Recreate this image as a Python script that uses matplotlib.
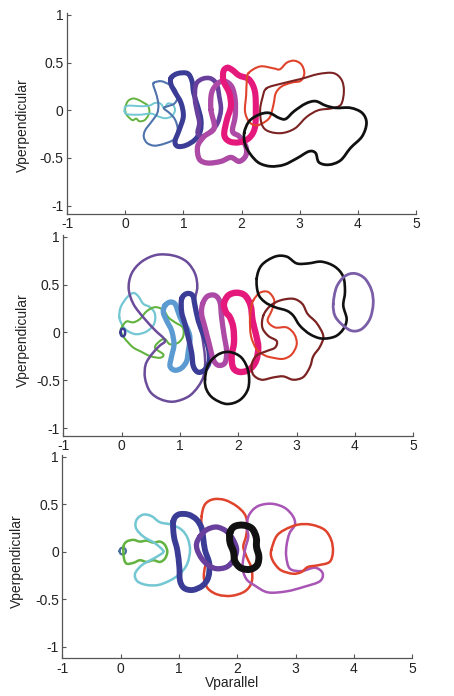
import numpy as np
import matplotlib
matplotlib.use("Agg")
import matplotlib.pyplot as plt
from matplotlib.path import Path
from matplotlib.patches import PathPatch

plt.rcParams['font.family'] = ['Liberation Sans', 'DejaVu Sans']
plt.rcParams['axes.unicode_minus'] = False

# ---------------- data: closed velocity-space contours (Vparallel, Vperpendicular) ----------------
# panel 1
p1_green = [(0.0, 0.025), (0.046, 0.095), (0.131, 0.123), (0.217, 0.112), (0.303, 0.084), (0.389, 0.049),
            (0.417, -0.011), (0.389, -0.063), (0.331, -0.105), (0.246, -0.116), (0.189, -0.088),
            (0.131, -0.105), (0.074, -0.081), (0.017, -0.039)]
p1_cyan = [(-0.011, -0.011), (0.0, 0.035), (0.074, 0.049), (0.274, 0.042), (0.417, 0.049), (0.514, 0.077),
           (0.606, 0.07), (0.674, 0.025), (0.731, 0.07), (0.817, 0.06), (0.857, 0.0), (0.8, -0.063),
           (0.686, -0.084), (0.56, -0.063), (0.446, -0.035), (0.274, -0.046), (0.103, -0.046), (0.017, -0.039)]
p1_steel = [(0.491, 0.288), (0.617, 0.305), (0.76, 0.27), (0.857, 0.225), (0.903, 0.14), (0.846, 0.07),
            (0.731, 0.042), (0.663, 0.021), (0.76, -0.028), (0.857, -0.098), (0.903, -0.204), (0.846, -0.302),
            (0.674, -0.351), (0.503, -0.372), (0.377, -0.344), (0.32, -0.281), (0.343, -0.211),
            (0.446, -0.126), (0.549, -0.035), (0.571, 0.06), (0.537, 0.165), (0.491, 0.246)]
p1_navy = [(0.789, 0.340), (0.903, 0.386), (1.074, 0.386), (1.149, 0.305), (1.177, 0.182), (1.246, 0.042),
           (1.303, -0.098), (1.291, -0.221), (1.2, -0.309), (1.046, -0.368), (0.903, -0.379), (0.857, -0.326),
           (0.931, -0.204), (1.0, -0.063), (0.96, 0.077), (0.857, 0.189), (0.789, 0.270)]
p1_purple = [(1.217, 0.270), (1.331, 0.330), (1.474, 0.333), (1.577, 0.270), (1.617, 0.147), (1.646, 0.007),
             (1.589, -0.133), (1.474, -0.221), (1.331, -0.274), (1.246, -0.239), (1.274, -0.133),
             (1.234, -0.011), (1.2, 0.112)]
p1_orchid = [(1.474, 0.007), (1.531, -0.186), (1.36, -0.274), (1.246, -0.379), (1.274, -0.512), (1.417, -0.554),
             (1.646, -0.537), (1.817, -0.495), (1.96, -0.537), (2.074, -0.477), (2.074, -0.379), (1.96, -0.274),
             (1.846, -0.221), (1.891, -0.063), (1.891, 0.112), (1.834, 0.246), (1.714, 0.305), (1.589, 0.281),
             (1.486, 0.182)]
p1_pink = [(1.76, 0.446), (1.846, 0.421), (1.96, 0.365), (2.131, 0.323), (2.229, 0.2), (2.246, 0.007),
           (2.229, -0.186), (2.131, -0.291), (1.96, -0.337), (1.789, -0.326), (1.703, -0.256), (1.749, -0.098),
           (1.817, 0.042), (1.789, 0.182), (1.691, 0.305), (1.691, 0.411)]
p1_red = [(2.12, 0.39), (2.32, 0.46), (2.55, 0.44), (2.66, 0.43), (2.78, 0.50), (2.91, 0.52), (3.03, 0.48),
          (3.08, 0.39), (3.02, 0.31), (2.86, 0.29), (2.69, 0.25), (2.59, 0.18), (2.55, 0.06), (2.49, -0.07),
          (2.38, -0.13), (2.25, -0.16), (2.13, -0.12), (2.06, -0.01), (2.08, 0.16), (2.09, 0.30)]
p1_brown = [(2.43, 0.23), (2.69, 0.28), (3.03, 0.33), (3.32, 0.38), (3.58, 0.39), (3.72, 0.32), (3.76, 0.20),
            (3.71, 0.06), (3.55, 0.02), (3.32, 0.0), (3.12, -0.07), (2.92, -0.19), (2.69, -0.24), (2.46, -0.22),
            (2.35, -0.15), (2.32, 0.0), (2.36, 0.13)]
p1_black = [(2.046, -0.239), (2.131, -0.116), (2.303, -0.046), (2.474, -0.028), (2.646, -0.081),
            (2.76, -0.091), (2.903, -0.011), (3.103, 0.07), (3.274, 0.095), (3.446, 0.049), (3.617, 0.025),
            (3.874, 0.025), (4.074, -0.028), (4.149, -0.133), (4.074, -0.274), (3.874, -0.396),
            (3.703, -0.526), (3.503, -0.572), (3.331, -0.547), (3.274, -0.449), (3.16, -0.432),
            (2.96, -0.502), (2.731, -0.572), (2.503, -0.589), (2.303, -0.554), (2.16, -0.467), (2.063, -0.361)]

# panel 2
p2_dot = [(-0.02, 0.0), (-0.008, 0.03), (0.02, 0.04), (0.048, 0.03), (0.06, 0.0), (0.048, -0.03),
          (0.02, -0.04), (-0.008, -0.03)]
p2_cyan = [(-0.04, 0.158), (-0.017, 0.264), (0.086, 0.363), (0.2, 0.412), (0.286, 0.377), (0.371, 0.299),
           (0.486, 0.264), (0.571, 0.194), (0.554, 0.088), (0.429, 0.011), (0.257, -0.018), (0.114, 0.011),
           (0.017, 0.07)]
p2_green = [(0.017, 0.07), (0.086, 0.116), (0.2, 0.106), (0.314, 0.141), (0.429, 0.222), (0.571, 0.264),
            (0.714, 0.236), (0.8, 0.158), (0.914, 0.106), (1.046, 0.053), (1.057, -0.035), (0.971, -0.106),
            (0.829, -0.123), (0.743, -0.07), (0.657, -0.088), (0.571, -0.158), (0.714, -0.229),
            (0.657, -0.264), (0.486, -0.246), (0.314, -0.194), (0.2, -0.158), (0.114, -0.106),
            (0.04, -0.053), (-0.017, 0.018)]
p2_purple = [(0.743, -0.081), (0.571, 0.025), (0.371, 0.158), (0.2, 0.299), (0.12, 0.458), (0.171, 0.616),
             (0.343, 0.739), (0.6, 0.81), (0.886, 0.803), (1.114, 0.739), (1.257, 0.616), (1.297, 0.475),
             (1.257, 0.335), (1.286, 0.158), (1.371, -0.018), (1.429, -0.264), (1.411, -0.44),
             (1.314, -0.563), (1.143, -0.669), (0.886, -0.722), (0.657, -0.694), (0.486, -0.616),
             (0.4, -0.475), (0.411, -0.335), (0.514, -0.229), (0.646, -0.141)]
p2_lightblue = [(0.743, 0.282), (0.829, 0.317), (0.914, 0.299), (0.971, 0.211), (1.029, 0.123), (1.114, 0.053),
                (1.171, -0.053), (1.143, -0.194), (1.114, -0.299), (1.029, -0.37), (0.914, -0.394),
                (0.829, -0.352), (0.857, -0.246), (0.897, -0.123), (0.857, 0.018), (0.771, 0.123),
                (0.714, 0.211)]
p2_navy = [(1.029, 0.352), (1.114, 0.405), (1.217, 0.387), (1.257, 0.282), (1.314, 0.123), (1.4, -0.018),
           (1.486, -0.158), (1.503, -0.299), (1.429, -0.387), (1.314, -0.415), (1.229, -0.352), (1.2, -0.211),
           (1.143, -0.053), (1.086, 0.088), (1.029, 0.211)]
p2_orchid = [(1.389, 0.299), (1.469, 0.377), (1.6, 0.387), (1.686, 0.317), (1.714, 0.158), (1.754, -0.018),
             (1.8, -0.194), (1.771, -0.317), (1.657, -0.342), (1.571, -0.282), (1.503, -0.123),
             (1.429, 0.053), (1.371, 0.194)]
p2_pink = [(1.754, 0.299), (1.829, 0.387), (1.971, 0.415), (2.114, 0.387), (2.211, 0.282), (2.246, 0.123),
           (2.303, -0.018), (2.343, -0.158), (2.303, -0.299), (2.189, -0.387), (2.029, -0.412), (1.914, -0.37),
           (1.886, -0.246), (1.926, -0.106), (1.914, 0.053), (1.857, 0.158), (1.789, 0.211)]
p2_circle = [(1.429, -0.493), (1.486, -0.335), (1.657, -0.229), (1.857, -0.204), (2.057, -0.264),
             (2.171, -0.405), (2.171, -0.581), (2.029, -0.704), (1.8, -0.746), (1.571, -0.687), (1.457, -0.599)]
p2_red = [(2.257, 0.334), (2.372, 0.415), (2.515, 0.422), (2.618, 0.334), (2.573, 0.228), (2.504, 0.122),
          (2.63, 0.053), (2.83, 0.053), (2.961, -0.018), (3.002, -0.124), (2.916, -0.229), (2.772, -0.275),
          (2.6, -0.264), (2.458, -0.24), (2.316, -0.176), (2.218, -0.036), (2.2, 0.14), (2.218, 0.246)]
p2_brown = [(2.429, 0.176), (2.544, 0.275), (2.715, 0.334), (2.943, 0.352), (3.098, 0.299), (3.19, 0.193),
            (3.345, 0.098), (3.458, -0.036), (3.401, -0.148), (3.287, -0.247), (3.23, -0.359), (3.115, -0.465),
            (2.943, -0.493), (2.772, -0.458), (2.6, -0.469), (2.401, -0.493), (2.257, -0.44), (2.23, -0.335),
            (2.316, -0.24), (2.487, -0.194), (2.63, -0.158), (2.659, -0.089), (2.515, -0.036), (2.412, 0.053)]
p2_black = [(2.316, 0.563), (2.401, 0.703), (2.63, 0.792), (2.83, 0.792), (3.002, 0.721), (3.201, 0.721),
            (3.43, 0.739), (3.659, 0.686), (3.801, 0.581), (3.83, 0.422), (3.801, 0.281), (3.859, 0.14),
            (3.801, 0.035), (3.659, -0.042), (3.43, -0.063), (3.23, -0.018), (3.058, 0.07), (2.943, 0.176),
            (2.83, 0.228), (2.63, 0.264), (2.458, 0.317), (2.343, 0.404)]
p2_ellipse = [(3.629, 0.299), (3.686, 0.475), (3.829, 0.588), (4.0, 0.616), (4.171, 0.563), (4.286, 0.44),
              (4.314, 0.299), (4.257, 0.141), (4.114, 0.035), (3.943, 0.018), (3.771, 0.088), (3.657, 0.176)]

# panel 3
p3_dot = [(-0.02, 0.007), (-0.005, 0.032), (0.034, 0.043), (0.073, 0.032), (0.09, 0.007), (0.073, -0.018),
          (0.034, -0.029), (-0.005, -0.018)]
p3_green = [(0.046, 0.053), (0.103, 0.107), (0.217, 0.125), (0.331, 0.107), (0.446, 0.117), (0.56, 0.096),
            (0.674, 0.107), (0.76, 0.071), (0.8, 0.0), (0.76, -0.071), (0.674, -0.107), (0.56, -0.089),
            (0.446, -0.107), (0.331, -0.089), (0.217, -0.117), (0.103, -0.125), (0.057, -0.071)]
p3_cyan = [(0.731, 0.007), (0.589, 0.089), (0.389, 0.16), (0.263, 0.249), (0.274, 0.338), (0.389, 0.391),
           (0.531, 0.374), (0.674, 0.31), (0.874, 0.285), (1.046, 0.231), (1.149, 0.142), (1.189, 0.018),
           (1.143, -0.125), (1.017, -0.231), (0.846, -0.302), (0.646, -0.349), (0.446, -0.349),
           (0.286, -0.31), (0.246, -0.231), (0.36, -0.142), (0.531, -0.082), (0.663, -0.036)]
p3_navy = [(0.903, 0.32), (0.989, 0.391), (1.16, 0.391), (1.303, 0.338), (1.389, 0.249), (1.417, 0.142),
           (1.446, 0.018), (1.52, -0.125), (1.503, -0.267), (1.406, -0.356), (1.234, -0.402), (1.086, -0.381),
           (1.017, -0.302), (1.006, -0.16), (0.971, 0.018), (0.914, 0.16)]
p3_purple = [(1.36, 0.16), (1.474, 0.231), (1.646, 0.26), (1.817, 0.214), (1.931, 0.125), (1.989, 0.018),
             (1.931, -0.089), (1.817, -0.16), (1.646, -0.178), (1.503, -0.142), (1.389, -0.071),
             (1.314, 0.018), (1.303, 0.089)]
p3_red = [(1.389, 0.374), (1.446, 0.498), (1.589, 0.552), (1.789, 0.544), (1.989, 0.48), (2.131, 0.391),
          (2.171, 0.285), (2.149, 0.16), (2.103, 0.053), (2.16, -0.053), (2.246, -0.178), (2.246, -0.32),
          (2.131, -0.416), (1.903, -0.463), (1.674, -0.452), (1.503, -0.391), (1.429, -0.285),
          (1.446, -0.16), (1.503, -0.071), (1.446, 0.053), (1.389, 0.196)]
p3_orchid = [(2.16, 0.267), (2.206, 0.391), (2.354, 0.48), (2.589, 0.505), (2.811, 0.463), (2.954, 0.374),
             (2.989, 0.285), (2.897, 0.196), (2.846, 0.071), (2.84, -0.053), (2.903, -0.178), (3.103, -0.203),
             (3.331, -0.167), (3.463, -0.224), (3.417, -0.31), (3.154, -0.367), (2.846, -0.416),
             (2.526, -0.427), (2.303, -0.356), (2.154, -0.285), (2.091, -0.16), (2.131, 0.018), (2.189, 0.16)]
p3_red2 = [(2.583, 0.018), (2.669, 0.16), (2.811, 0.231), (3.04, 0.285), (3.269, 0.285), (3.497, 0.231),
           (3.611, 0.125), (3.64, 0.0), (3.583, -0.107), (3.383, -0.142), (3.211, -0.16), (3.097, -0.214),
           (2.954, -0.231), (2.754, -0.196), (2.64, -0.125), (2.583, -0.053)]
p3_black = [(1.874, 0.2), (1.95, 0.265), (2.1, 0.28), (2.25, 0.245), (2.325, 0.15), (2.33, 0.05),
            (2.37, -0.05), (2.34, -0.14), (2.22, -0.185), (2.06, -0.17), (1.96, -0.1), (1.935, 0.0),
            (1.875, 0.1)]

xticks = [-1, 0, 1, 2, 3, 4, 5]
yticks = [-1, -0.5, 0, 0.5, 1]
yticklabels = ['-1', '-0.5', '0', '0.5', '1']

GREEN = '#62b33f'
CYAN = '#72c7d3'
STEEL = '#4f74ad'
NAVY = '#3a3c96'
PURPLE = '#683f9c'
ORCHID = '#ad4aa6'
PINK = '#e5197b'
RED = '#e0432c'
BROWN = '#7b2222'
BLACK = '#111111'

panels = [
    [(p1_green, GREEN, 1.4), (p1_cyan, CYAN, 1.4), (p1_steel, STEEL, 1.5), (p1_navy, NAVY, 3.6),
     (p1_purple, PURPLE, 3.3), (p1_orchid, ORCHID, 3.8), (p1_pink, PINK, 4.4), (p1_red, RED, 1.5),
     (p1_brown, BROWN, 1.5), (p1_black, BLACK, 2.0)],
    [(p2_cyan, CYAN, 1.6), (p2_green, GREEN, 1.5), (p2_dot, NAVY, 1.8), (p2_purple, '#6b4c9a', 1.8),
     (p2_lightblue, '#5c9bd2', 3.8), (p2_navy, NAVY, 3.8), (p2_orchid, ORCHID, 3.8), (p2_pink, PINK, 4.6),
     (p2_red, RED, 1.5), (p2_brown, BROWN, 1.6), (p2_black, BLACK, 1.9), (p2_ellipse, '#7a5ea8', 2.0),
     (p2_circle, BLACK, 1.9)],
    [(p3_dot, '#4a6e9a', 1.6), (p3_green, GREEN, 1.8), (p3_cyan, CYAN, 1.8), (p3_red, RED, 1.8),
     (p3_navy, NAVY, 4.2), (p3_purple, PURPLE, 3.8), (p3_orchid, '#a855b5', 1.8), (p3_red2, RED, 1.8),
     (p3_black, BLACK, 5.0)],
]

# axes placement in figure fraction and y limits, per panel
positions = [[0.1476, 0.6931, 0.7687, 0.2881],
             [0.1396, 0.3736, 0.7705, 0.2891],
             [0.1374, 0.0542, 0.7705, 0.2924]]
ylims = [(-1.085, 1.02), (-1.08, 1.02), (-1.12, 1.02)]
ylabel_pos = [(-0.105, 0.44), (-0.095, 0.475), (-0.11, 0.478)]


def smooth_loop(pts):
    # closed cubic bezier passing through every read point (catmull-rom tangents)
    p = np.asarray(pts, dtype=float)
    prev = np.roll(p, 1, axis=0)
    nxt = np.roll(p, -1, axis=0)
    nxt2 = np.roll(p, -2, axis=0)
    c1 = p + (nxt - prev) / 6.
    c2 = nxt - (nxt2 - p) / 6.
    verts = [p[0]]
    codes = [Path.MOVETO]
    for i in range(len(p)):
        verts += [c1[i], c2[i], nxt[i]]
        codes += [Path.CURVE4, Path.CURVE4, Path.CURVE4]
    return Path(verts, codes)


fig = plt.figure(figsize=(4.54, 6.96), dpi=100)

for k in range(3):
    ax = fig.add_axes(positions[k])
    for pts, col, lw in panels[k]:
        patch = PathPatch(smooth_loop(pts), facecolor='none', edgecolor=col, lw=lw,
                          joinstyle='round', capstyle='round')
        ax.add_patch(patch)
    ax.set_xlim(-1, 5)
    ax.set_ylim(*ylims[k])
    ax.set_xticks(xticks)
    ax.set_yticks(yticks)
    ax.set_yticklabels(yticklabels)
    for side in ['top', 'right']:
        ax.spines[side].set_visible(False)
    for side in ['left', 'bottom']:
        ax.spines[side].set_color('#555555')
        ax.spines[side].set_linewidth(0.9)
    ax.tick_params(direction='in', length=3, width=0.8, color='#555555',
                   labelsize=10, labelcolor='#222222', pad=2.5)
    ax.set_ylabel('Vperpendicular', fontsize=10, color='#222222')
    ax.yaxis.set_label_coords(*ylabel_pos[k])
    if k == 2:
        ax.set_xlabel('Vparallel', fontsize=10, color='#222222')
        ax.xaxis.set_label_coords(0.485, -0.085)

fig.savefig('out.png', dpi=100)
